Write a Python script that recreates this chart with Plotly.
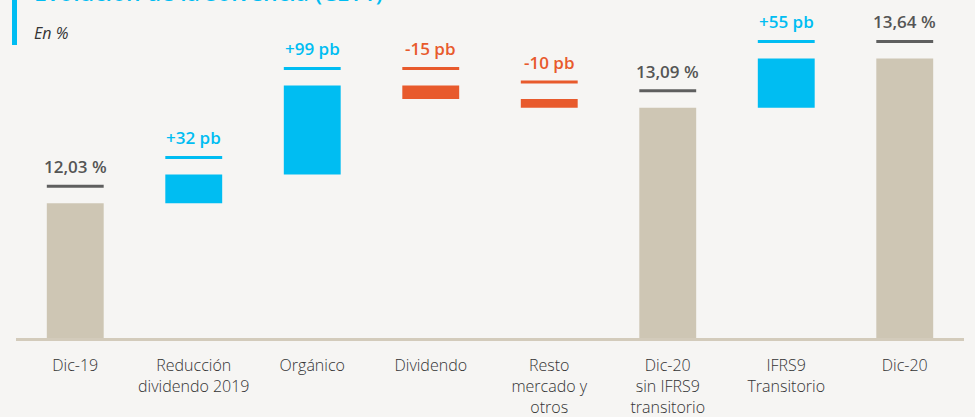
import plotly.graph_objects as go

categories = ["Dic-19", "Reducción<br>dividendo 2019", "Orgánico", "Dividendo",
              "Resto<br>mercado y<br>otros", "Dic-20<br>sin IFRS9<br>transitorio",
              "IFRS9<br>Transitorio", "Dic-20"]
kinds = ["total", "delta", "delta", "delta", "delta", "total", "delta", "total"]
values = [12.03, 0.32, 0.99, -0.15, -0.10, 13.09, 0.55, 13.64]
labels = ["12,03 %", "+32 pb", "+99 pb", "-15 pb", "-10 pb", "13,09 %", "+55 pb", "13,64 %"]

TAN = "#CEC6B4"
CYAN = "#00BDF2"
ORANGE = "#E85A2C"
GRAY = "#5F5F5F"
BG = "#F6F5F3"
FONT = "Open Sans"

y_min, y_max = 10.53, 14.29
plot_h = 417 - 79
px_per_unit = plot_h / (y_max - y_min)
line_gap = 17 / px_per_unit

bases, heights, colors, tops, line_colors = [], [], [], [], []
level = 0.0
for k, v in zip(kinds, values):
    if k == "total":
        bases.append(0)
        heights.append(v)
        colors.append(TAN)
        level = v
        tops.append(v)
        line_colors.append(GRAY)
    else:
        if v >= 0:
            bases.append(level)
            heights.append(v)
            colors.append(CYAN)
            line_colors.append(CYAN)
            level += v
            tops.append(level)
        else:
            bases.append(level + v)
            heights.append(-v)
            colors.append(ORANGE)
            line_colors.append(ORANGE)
            tops.append(level)
            level += v

fig = go.Figure()
fig.add_trace(go.Bar(x=list(range(len(categories))), y=heights, base=bases,
                     marker=dict(color=colors, line=dict(width=0)),
                     width=0.48, hoverinfo="skip"))

bw = 0.24
for i, (t, lc, lab) in enumerate(zip(tops, line_colors, labels)):
    ly = t + line_gap
    fig.add_shape(type="line", x0=i - bw, x1=i + bw, y0=ly, y1=ly,
                  xref="x", yref="y", line=dict(color=lc, width=3))
    txtcol = "#555555" if lc == GRAY else lc
    fig.add_annotation(x=i, y=ly, xref="x", yref="y", text=lab, showarrow=False,
                       yanchor="bottom", yshift=6,
                       font=dict(family=FONT, size=17, color=txtcol, weight=600))

pw = 975 - 27
fig.add_annotation(x=(32 - 16) / pw, y=(plot_h - 10) / plot_h, xref="paper", yref="paper",
                   text="Evolución de la solvencia (CET1)", showarrow=False,
                   xanchor="left", yanchor="bottom",
                   font=dict(family=FONT, size=23, color=CYAN, weight=600))
fig.add_annotation(x=(32 - 16) / pw, y=(plot_h - 33) / plot_h, xref="paper", yref="paper",
                   text="<i>En %</i>", showarrow=False, xanchor="left", yanchor="middle",
                   font=dict(family=FONT, size=16, color="#333333"))
fig.add_shape(type="rect", xref="paper", yref="paper",
              x0=(12 - 16) / pw, x1=(17 - 16) / pw,
              y0=(plot_h - 45) / plot_h, y1=1.05,
              line=dict(width=0), fillcolor=CYAN, layer="above")

fig.update_layout(
    width=975, height=417,
    margin=dict(l=16, r=11, t=0, b=79),
    paper_bgcolor=BG, plot_bgcolor=BG,
    showlegend=False,
    xaxis=dict(tickmode="array", tickvals=list(range(len(categories))), ticktext=categories,
               range=[-0.5, len(categories) - 0.5],
               showgrid=False, zeroline=False, showline=True, linecolor="#D3CBBB", linewidth=3,
               ticks="", ticklabelstandoff=11,
               tickfont=dict(family=FONT, size=16, color="#333333", weight=300), fixedrange=True),
    yaxis=dict(range=[y_min, y_max], visible=False, fixedrange=True),
)

fig.write_html("out.html")
